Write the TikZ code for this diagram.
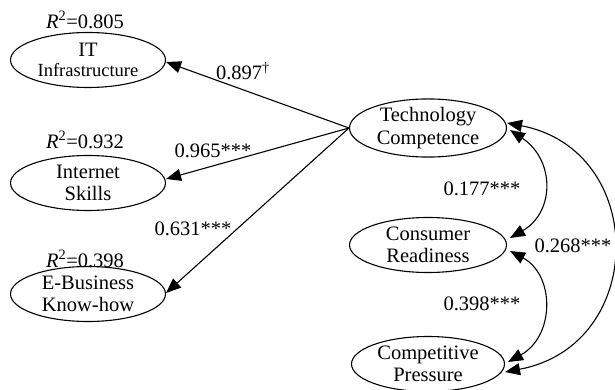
\documentclass[tikz,border=0pt]{standalone}
\usepackage{fontspec}
\setmainfont{Liberation Serif}
\usetikzlibrary{shapes.geometric,arrows.meta}
\begin{document}
\begin{tikzpicture}[x=1pt,y=-1pt,
  lat/.style={draw,ellipse,line width=1.1pt,minimum width=155pt,minimum height=55pt,inner sep=0pt,align=center,font=\fontsize{20.5}{22.5}\selectfont},
  lbl/.style={inner sep=0pt,font=\fontsize{20.5}{23}\selectfont},
  arr/.style={line width=1.1pt,-{Triangle[length=15pt,width=12pt]}},
  darr/.style={line width=1.1pt,{Triangle[length=15pt,width=12pt]}-{Triangle[length=15pt,width=12pt]}}]
\useasboundingbox (0,0) rectangle (615,390);
\node[lat] (it) at (88,60) {IT\\[-2pt]{\fontsize{18.5}{20}\selectfont Infrastructure}};
\node[lat] (is) at (88,183) {Internet\\Skills};
\node[lat] (eb) at (88,294) {E-Business\\Know-how};
\node[lat,minimum width=157pt] (tc) at (428,128) {Technology\\Competence};
\node[lat,minimum width=157pt] (cr) at (428,245) {Consumer\\Readiness};
\node[lat,minimum width=153pt] (cp) at (428,364) {Competitive\\Pressure};
\node[lbl] (r1) at (85,20) {\textit{R}\textsuperscript{2}=0.805};
\node[lbl] (r2) at (85,140) {\textit{R}\textsuperscript{2}=0.932};
\node[lbl] (r3) at (85,259) {\textit{R}\textsuperscript{2}=0.398};
\node[lbl] (l1) at (243,71) {0.897\textsuperscript{\textdagger}};
\node[lbl] (l2) at (213,151) {0.965***};
\node[lbl] (l3) at (193,229) {0.631***};
\node[lbl] (l4) at (482,189) {0.177***};
\node[lbl] (l5) at (573,246) {0.268***};
\node[lbl] (l6) at (482,304) {0.398***};
\draw[arr] (tc.west) -- ([yshift=-2pt]it.east);
\draw[arr] (tc.west) -- ([yshift=4pt]is.east);
\draw[arr] (tc.west) -- ([yshift=1pt]eb.east);
\draw[darr] ([xshift=3pt,yshift=-2pt]tc.east) .. controls (555,160) and (555,212) .. ([xshift=3pt,yshift=7pt]cr.east);
\draw[darr] ([xshift=3pt,yshift=-6pt]cr.east) .. controls (555,275) and (555,336) .. ([xshift=3pt,yshift=2pt]cp.east);
\draw[darr] ([yshift=5pt]tc.east) .. controls (648,150) and (648,345) .. ([yshift=-8pt]cp.east);
\end{tikzpicture}
\end{document}
